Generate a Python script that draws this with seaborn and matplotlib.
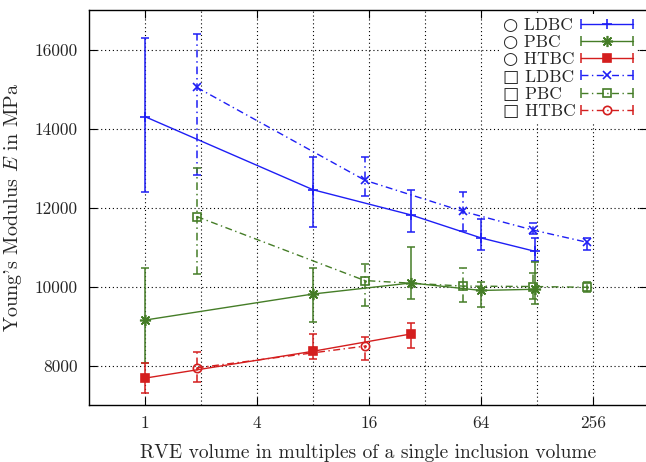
import numpy as np
import pandas as pd
import seaborn as sns
import matplotlib
matplotlib.use("Agg")
import matplotlib.pyplot as plt
from matplotlib.lines import Line2D
from matplotlib.legend_handler import HandlerBase
from matplotlib.ticker import FixedLocator, FixedFormatter, NullFormatter

# ---------------- data ----------------
x_circle = [1, 8, 27, 64, 125]
x_square = [1.9, 15.2, 51.3, 121.6, 237.5]

ldbc_c = [14300, 12450, 11810, 11230, 10890]
ldbc_c_lo = [12400, 11510, 11390, 10920, 10640]
ldbc_c_hi = [16280, 13290, 12450, 11710, 11230]

pbc_c = [9150, 9810, 10090, 9900, 9930]
pbc_c_lo = [8060, 9110, 9690, 9490, 9560]
pbc_c_hi = [10460, 10480, 11010, 10110, 10610]

htbc_c = [7680, 8360, 8800]
htbc_c_lo = [7310, 8170, 8440]
htbc_c_hi = [8060, 8790, 9080]

ldbc_s = [15040, 12690, 11900, 11430, 11120]
ldbc_s_lo = [12820, 12300, 11410, 11340, 10930]
ldbc_s_hi = [16400, 13280, 12400, 11600, 11240]

pbc_s = [11770, 10150, 10010, 10000, 9980]
pbc_s_lo = [10320, 9500, 9600, 9690, 9870]
pbc_s_hi = [12990, 10560, 10460, 10330, 10120]

htbc_s = [7940, 8490]
htbc_s_lo = [7570, 8150]
htbc_s_hi = [8340, 8720]

labels = ["○ LDBC", "○ PBC", "○ HTBC", "□ LDBC", "□ PBC", "□ HTBC"]
x_ticks = [1, 4, 16, 64, 256]
x_minor = [2, 8, 32, 128]
y_ticks = [8000, 10000, 12000, 14000, 16000]

# ---------------- style ----------------
sns.set_theme(style="ticks")
plt.rcParams.update({
    "font.family": ["cmr10", "DejaVu Sans"],
    "mathtext.fontset": "cm",
    "axes.formatter.use_mathtext": True,
    "axes.unicode_minus": False,
    "xtick.direction": "in",
    "ytick.direction": "in",
    "xtick.top": True,
    "ytick.right": True,
    "axes.linewidth": 1.0,
})

BLUE = "#1e1ef5"
GREEN = "#457d27"
RED = "#d41e1e"
DASHDOT = (0, (5, 2.5, 1, 2.5))

series = [
    (x_circle, ldbc_c, ldbc_c_lo, ldbc_c_hi, BLUE, "-", "+", BLUE, 7),
    (x_circle, pbc_c, pbc_c_lo, pbc_c_hi, GREEN, "-", (8, 2, 0), GREEN, 8),
    (x_circle[:3], htbc_c, htbc_c_lo, htbc_c_hi, RED, "-", "s", RED, 5.5),
    (x_square, ldbc_s, ldbc_s_lo, ldbc_s_hi, BLUE, DASHDOT, "x", BLUE, 6),
    (x_square, pbc_s, pbc_s_lo, pbc_s_hi, GREEN, DASHDOT, "s", "none", 6),
    (x_square[:2], htbc_s, htbc_s_lo, htbc_s_hi, RED, DASHDOT, "o", "none", 6),
]

fig = plt.figure(figsize=(6.46, 4.62), dpi=100)
ax = fig.add_axes([89 / 646, 1 - 405 / 462, (647 - 89) / 646, (405 - 10) / 462])
ax.set_xscale("log", base=2)

handles = []
for i, (xs, ys, lo, hi, c, ls, mk, mfc, ms) in enumerate(series):
    z = 3 + i * 0.1
    ys_a = np.asarray(ys, float)
    yerr = [ys_a - np.asarray(lo, float), np.asarray(hi, float) - ys_a]
    eb = ax.errorbar(xs, ys, yerr=yerr, fmt="none", ecolor=c, elinewidth=1.1,
                     capsize=3.2, capthick=1.1, zorder=z)
    if ls != "-":
        eb.lines[2][0].set_linestyle(ls)
    df = pd.DataFrame({"x": xs, "y": ys})
    sns.lineplot(data=df, x="x", y="y", ax=ax, color=c, linestyle=ls, lw=1.0,
                 marker=mk, markersize=ms, markerfacecolor=mfc,
                 markeredgecolor=c, markeredgewidth=1.2, zorder=z, legend=False,
                 estimator=None)
    h = Line2D([], [], color=c, linestyle=ls, lw=1.0, marker=mk, markersize=ms,
               markerfacecolor=mfc, markeredgecolor=c, markeredgewidth=1.2)
    handles.append(h)
    if mfc == "none":
        ax.plot(xs, ys, ls="none", marker=".", ms=2, color=c, zorder=z)


class GPHandler(HandlerBase):
    def create_artists(self, legend, orig, xdescent, ydescent, width, height,
                       fontsize, trans):
        y = height / 2 - ydescent
        x0, x1 = -xdescent, width - xdescent
        a = Line2D([x0, x1], [y, y])
        a.update_from(orig)
        a.set_marker("None")
        b = Line2D([x0, x1], [y, y])
        b.update_from(orig)
        b.set_linestyle("None")
        b.set_marker("|")
        b.set_markersize(7)
        b.set_markeredgewidth(1.1)
        m = Line2D([(x0 + x1) / 2], [y])
        m.update_from(orig)
        m.set_linestyle("None")
        for art in (a, b, m):
            art.set_transform(trans)
        return [a, b, m]


ax.set_xlim(0.5, 2 ** ((647 - 145) / 56))
ax.set_ylim(7000, 17000)
ax.xaxis.set_major_locator(FixedLocator(x_ticks))
ax.xaxis.set_major_formatter(FixedFormatter([str(v) for v in x_ticks]))
ax.xaxis.set_minor_locator(FixedLocator(x_minor))
ax.xaxis.set_minor_formatter(NullFormatter())
ax.yaxis.set_major_locator(FixedLocator(y_ticks))
ax.yaxis.set_major_formatter(FixedFormatter([str(v) for v in y_ticks]))
ax.yaxis.set_minor_locator(FixedLocator([]))
ax.tick_params(which="major", length=6, width=0.8, labelsize=12.5, color="black", pad=8)
ax.tick_params(which="minor", length=0)
ax.grid(True, which="both", axis="x", color="black", linestyle=(0, (1, 2.5)), lw=0.8)
ax.grid(True, which="major", axis="y", color="black", linestyle=(0, (1, 2.5)), lw=0.8)
for s in ax.spines.values():
    s.set_color("black")

ax.set_xlabel("RVE volume in multiples of a single inclusion volume", fontsize=14, labelpad=9)
ax.set_ylabel("Young's Modulus $E$ in MPa", fontsize=14.5, labelpad=8)

leg = ax.legend(handles, labels, handler_map={Line2D: GPHandler()},
                loc="upper right", bbox_to_anchor=(636 / 646, 1 - 14 / 462),
                bbox_transform=fig.transFigure, markerfirst=False,
                frameon=True, framealpha=1, facecolor="white", edgecolor="none",
                fancybox=False, fontsize=12.5, handlelength=2.95, handletextpad=0.6,
                labelspacing=0.11, borderpad=0.2, borderaxespad=0)
leg.set_zorder(10)
# give every legend row the same width so labels start at the same x
for col in leg._legend_handle_box.get_children():
    for item in col.get_children():
        item.mode = "expand"
        item.width = 130

fig.savefig("out.png", dpi=100)
